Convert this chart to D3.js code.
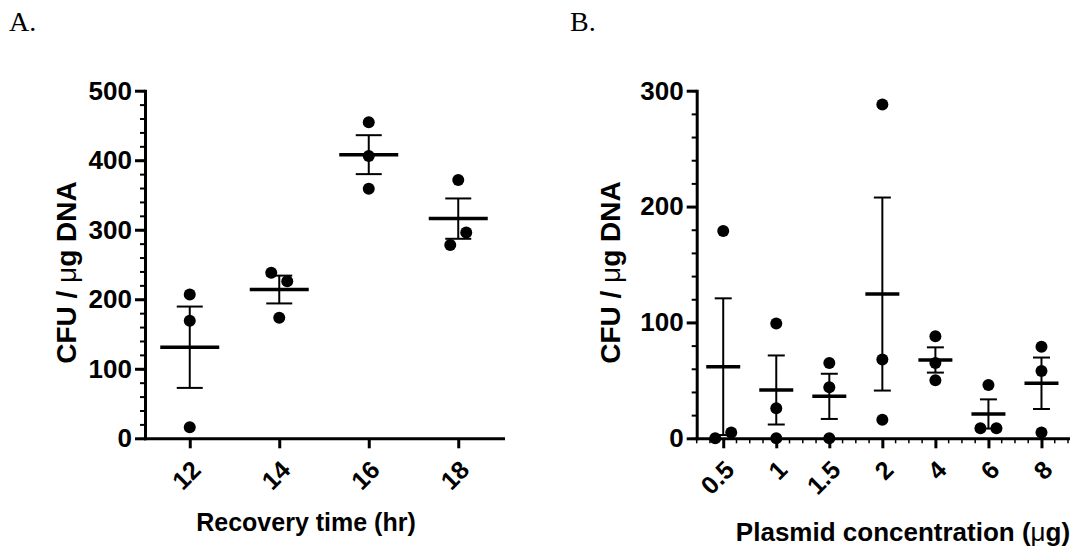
<!DOCTYPE html>
<html>
<head>
<meta charset="utf-8">
<script src="https://cdn.jsdelivr.net/npm/d3@7"></script>
<style>
  body { margin: 0; background: #fff; }
  svg { display: block; }
</style>
</head>
<body>
<script>
// panel A: recovery time
const recoveryTimes = ["12", "14", "16", "18"];
const recoveryPoints = [[207, 169, 16], [238, 226, 173.5], [454.5, 406, 359], [371.5, 278, 296]];
const recoveryMeans = [131, 214, 408, 316];
const recoverySem = [58.5, 20, 28, 29];
const recoveryTicks = [0, 100, 200, 300, 400, 500];

// panel B: plasmid concentration
const plasmidDoses = ["0.5", "1", "1.5", "2", "4", "6", "8"];
const plasmidPoints = [[179, 0, 5], [99, 26, 0], [65, 44, 0], [288, 68, 16], [88, 65, 50], [8.6, 8.6, 46], [79, 58, 5]];
const plasmidMeans = [61.8, 41.7, 36.2, 124.5, 67.6, 21, 47.5];
const plasmidSem = [59, 29.8, 19.5, 83.3, 10.9, 12.6, 22.2];
const plasmidTicks = [0, 100, 200, 300];

document.addEventListener('DOMContentLoaded', function() {
  const w = 1081, h = 548;
  const top = 90.7, bottom = 438.3;
  const font = "'Liberation Sans', Arial, sans-serif";

  const svg = d3.select("body")
                .append("svg")
                .attr("width", w)
                .attr("height", h);

  function drawPanel(opt) {
    const x = d3.scalePoint()
                .domain(opt.cats)
                .range([opt.left, opt.right])
                .padding(0.5);
    const y = d3.scaleLinear()
                .domain([0, opt.yMax])
                .range([bottom, top]);
    const step = x.step();
    const g = svg.append("g");

    // minor y ticks
    g.append("g")
     .attr("transform", "translate(" + opt.left + ",0)")
     .call(d3.axisLeft(y).tickValues(d3.range(0, opt.yMax + 1, 20)).tickSize(5).tickSizeOuter(0).tickFormat(""))
     .call(a => a.select(".domain").remove())
     .call(a => a.selectAll("line").attr("stroke-width", 2));

    // major y axis
    g.append("g")
     .attr("transform", "translate(" + opt.left + ",0)")
     .call(d3.axisLeft(y).tickValues(opt.ticks).tickSize(10).tickSizeOuter(0).tickPadding(3))
     .call(a => a.select(".domain").attr("stroke-width", 3).attr("stroke-linecap", "square"))
     .call(a => a.selectAll("line").attr("stroke-width", 3))
     .call(a => a.selectAll("text")
                 .attr("font-family", font)
                 .attr("font-weight", "bold")
                 .attr("font-size", 26)
                 .attr("fill", "#000"));

    // minor x ticks (panel B only)
    if (opt.minorX) {
      const minor = [];
      opt.cats.forEach(c => {
        [-0.5, -0.25, 0.25].forEach(f => minor.push(x(c) + f * step));
      });
      minor.push(opt.right);
      g.selectAll("line.minorx")
       .data(minor)
       .enter()
       .append("line")
       .attr("class", "minorx")
       .attr("x1", d => d).attr("x2", d => d)
       .attr("y1", bottom).attr("y2", bottom + 5)
       .attr("stroke", "#000")
       .attr("stroke-width", 1.5);
    }

    // x axis
    g.append("g")
     .attr("transform", "translate(0," + bottom + ")")
     .call(d3.axisBottom(x).tickSize(10).tickSizeOuter(0))
     .call(a => a.select(".domain").attr("stroke-width", 3).attr("stroke-linecap", "square"))
     .call(a => a.selectAll("line").attr("stroke-width", 3))
     .call(a => a.selectAll("text")
                 .attr("font-family", font)
                 .attr("font-weight", "bold")
                 .attr("font-size", 25)
                 .attr("fill", "#000")
                 .attr("text-anchor", "end")
                 .attr("x", 0).attr("y", 0)
                 .attr("dy", "0.35em")
                 .attr("transform", "translate(6,27) rotate(-45)"));

    // error bars and means
    const capW = opt.capW, meanW = opt.meanW;
    opt.cats.forEach((c, i) => {
      const cx = x(c);
      const m = opt.means[i], s = opt.sem[i];
      g.append("line")
       .attr("x1", cx).attr("x2", cx)
       .attr("y1", y(Math.max(0, m - s))).attr("y2", y(m + s))
       .attr("stroke", "#000").attr("stroke-width", 2);
      [m - s, m + s].forEach(v => {
        g.append("line")
         .attr("x1", cx - capW / 2).attr("x2", cx + capW / 2)
         .attr("y1", y(Math.max(0, v))).attr("y2", y(Math.max(0, v)))
         .attr("stroke", "#000").attr("stroke-width", 2);
      });
      g.append("line")
       .attr("x1", cx - meanW / 2).attr("x2", cx + meanW / 2)
       .attr("y1", y(m)).attr("y2", y(m))
       .attr("stroke", "#000").attr("stroke-width", 3.5);
    });

    // dots, spread sideways when they would overlap
    opt.cats.forEach((c, i) => {
      const vals = opt.points[i];
      const cluster = vals.map((v, k) => k);
      vals.forEach((a, k) => {
        vals.forEach((b, j) => {
          if (j > k && Math.abs(y(a) - y(b)) < 15) cluster[j] = cluster[k];
        });
      });
      const groups = d3.group(vals.map((v, k) => k), k => cluster[k]);
      const offs = vals.map(() => 0);
      groups.forEach(ks => {
        ks.forEach((k, n) => { offs[k] = (n - (ks.length - 1) / 2) * 16; });
      });
      g.selectAll(null)
       .data(vals)
       .enter()
       .append("circle")
       .attr("cx", (v, k) => x(c) + offs[k])
       .attr("cy", v => y(v))
       .attr("r", 6)
       .attr("fill", "#000");
    });

    // axis titles
    const yt = g.append("text")
      .attr("transform", "translate(" + opt.yTitleX + "," + ((top + bottom) / 2 + 8) + ") rotate(-90)")
      .attr("text-anchor", "middle")
      .attr("font-family", font)
      .attr("font-weight", "bold")
      .attr("font-size", 28);
    yt.append("tspan").text("CFU / ");
    yt.append("tspan").attr("font-weight", "normal").text("μ");
    yt.append("tspan").text("g DNA");

    const xt = g.append("text")
      .attr("x", opt.xTitleX)
      .attr("y", opt.xTitleY)
      .attr("text-anchor", "middle")
      .attr("font-family", font)
      .attr("font-weight", "bold")
      .attr("font-size", opt.xTitleSize);
    xt.append("tspan").text(opt.xTitle);
    if (opt.xUnit) {
      xt.append("tspan").text(" (");
      xt.append("tspan").attr("font-weight", "normal").text("μ");
      xt.append("tspan").text("g)");
    }

    svg.append("text")
       .attr("x", opt.labelX)
       .attr("y", 31)
       .attr("font-family", "'Liberation Serif', 'Times New Roman', serif")
       .attr("font-size", 28)
       .text(opt.label);
  }

  drawPanel({
    cats: recoveryTimes, points: recoveryPoints, means: recoveryMeans, sem: recoverySem,
    ticks: recoveryTicks, yMax: 500, left: 145, right: 503,
    capW: 26, meanW: 59, yTitleX: 76, xTitle: "Recovery time (hr)", xTitleX: 306, xTitleY: 531,
    xTitleSize: 25, label: "A.", labelX: 9
  });

  drawPanel({
    cats: plasmidDoses, points: plasmidPoints, means: plasmidMeans, sem: plasmidSem,
    ticks: plasmidTicks, yMax: 300, left: 696.7, right: 1068,
    capW: 17, meanW: 34, yTitleX: 620, xTitle: "Plasmid concentration", xUnit: true,
    xTitleX: 903, xTitleY: 541, xTitleSize: 26, minorX: true,
    label: "B.", labelX: 570
  });
});
</script>
</body>
</html>
